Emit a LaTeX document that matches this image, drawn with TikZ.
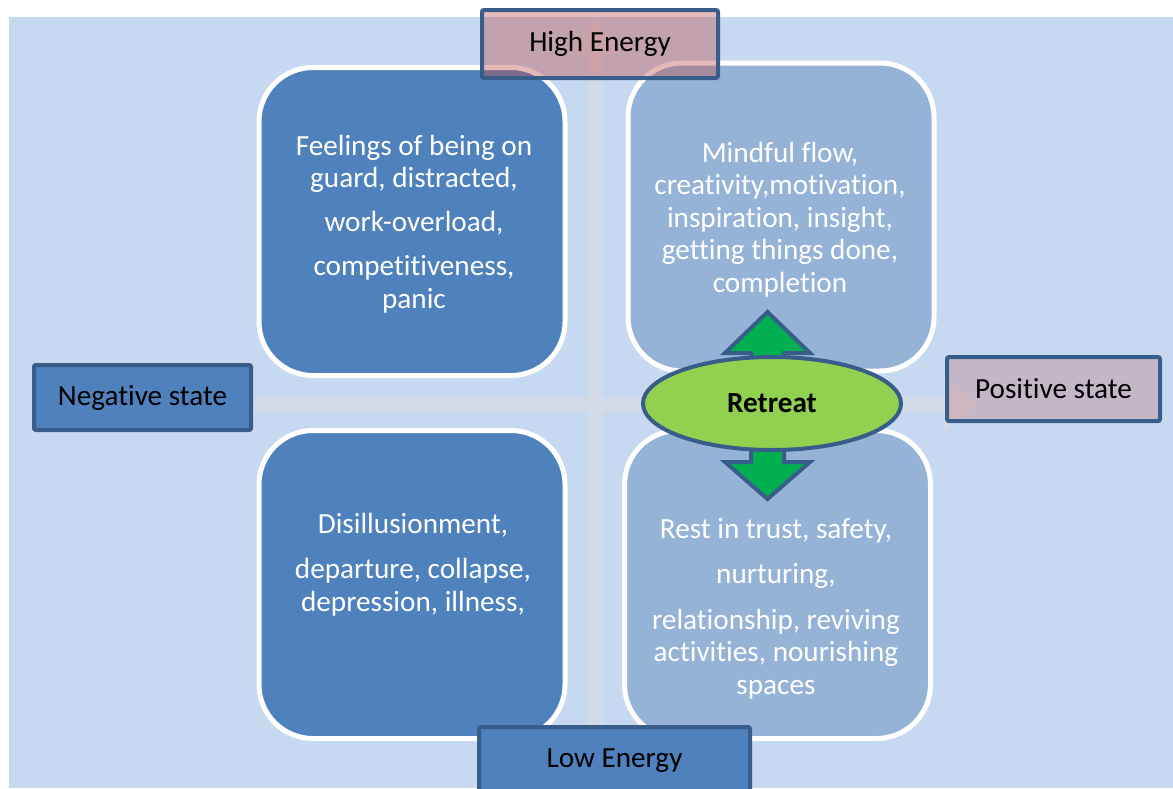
\documentclass[tikz,border=0pt]{standalone}
\usepackage{fontspec}
\setmainfont{Carlito}[Ligatures=NoCommon]
\usetikzlibrary{arrows.meta, shapes.geometric}

\definecolor{bgblue}{HTML}{C6D9F1}
\definecolor{barlavender}{HTML}{D3DAE8}
\definecolor{darkquad}{HTML}{4F81BD}
\definecolor{lightquad}{HTML}{95B3D7}
\definecolor{edgeblue}{HTML}{385D8A}
\definecolor{pinktag}{HTML}{C0504D}
\definecolor{retreatgreen}{HTML}{92D050}
\definecolor{arrowgreen}{HTML}{00B050}
\newcommand{\quadfont}{\fontsize{14.6}{16.2}\selectfont}

\begin{document}
\begin{tikzpicture}[x=0.5pt, y=-0.5pt,
    quad/.style={draw=white, line width=2.5pt, rounded corners=27pt,
        minimum width=153pt, minimum height=154pt},
    quadtext/.style={text=white, align=center, font=\quadfont},
    tag/.style={draw=edgeblue, line width=2pt, rounded corners=1pt,
        font=\quadfont, text=black, text opacity=1},
    crossbar/.style={draw=barlavender, line width=7.5pt,
        -{Triangle[width=25pt, length=18pt]}},
    greenarrow/.style={draw=edgeblue, line width=2pt, fill=arrowgreen}]
    \clip (0,0) rectangle (1173,788);
    \fill[bgblue] (9,17) rectangle (1173,788);

    % faint axes behind the quadrants
    \coordinate (axisBottom) at (595.5,745);
    \coordinate (axisTop) at (595.5,18);
    \coordinate (axisLeft) at (250,404);
    \coordinate (axisRight) at (980,404);
    \draw[crossbar] (axisBottom) -- (axisTop);
    \draw[crossbar] (axisLeft) -- (axisRight);

    % quadrants
    \node[quad, fill=darkquad] (negHigh) at (412,221.5) {};
    \node[quad, fill=lightquad] (posHigh) at (781,217) {};
    \node[quad, fill=darkquad] (negLow) at (412,584.5) {};
    \node[quad, fill=lightquad] (posLow) at (777.5,584.5) {};

    \node[quadtext] (negHighText) at (414,224)
        {Feelings of being on\\ guard, distracted,\\[5.5pt] work-overload,\\[6pt]
         competitiveness,\\ panic};
    \node[quadtext] (posHighText) at (780,219.5)
        {Mindful flow,\\ creativity,motivation,\\ inspiration, insight,\\
         getting things done,\\ completion};
    \node[quadtext] (negLowText) at (413,564.5)
        {Disillusionment,\\[6.5pt] departure, collapse,\\ depression, illness,};
    \node[quadtext] (posLowText) at (776,608.5)
        {Rest in trust, safety,\\[6.5pt] nurturing,\\[6.5pt] relationship, reviving\\
         activities, nourishing\\ spaces};

    % retreat with arrows up and down
    \draw[greenarrow] (751,380) -- (751,353) -- (725,353) -- (767.5,312)
        -- (810,353) -- (784,353) -- (784,380) -- cycle;
    \draw[greenarrow] (751,430) -- (751,462) -- (725,462) -- (767.5,499)
        -- (810,462) -- (784,462) -- (784,430) -- cycle;
    \node[ellipse, draw=edgeblue, line width=2pt, fill=retreatgreen,
        minimum width=129pt, minimum height=46.5pt, font=\quadfont\bfseries]
        (retreat) at (772,403.5) {Retreat};

    % axis labels
    \node[tag, fill=pinktag, fill opacity=0.4, minimum width=118pt,
        minimum height=34pt] (highEnergy) at (600,44) {High Energy};
    \node[tag, fill=darkquad, minimum width=108.5pt,
        minimum height=32.5pt] (negState) at (142.5,397.5) {Negative state};
    \node[tag, fill=pinktag, fill opacity=0.25, minimum width=106.5pt,
        minimum height=32pt] (posState) at (1053.5,389) {Positive state};
    \node[tag, fill=darkquad, minimum width=135.5pt,
        minimum height=34pt] (lowEnergy) at (614.5,761) {Low Energy};
\end{tikzpicture}
\end{document}
